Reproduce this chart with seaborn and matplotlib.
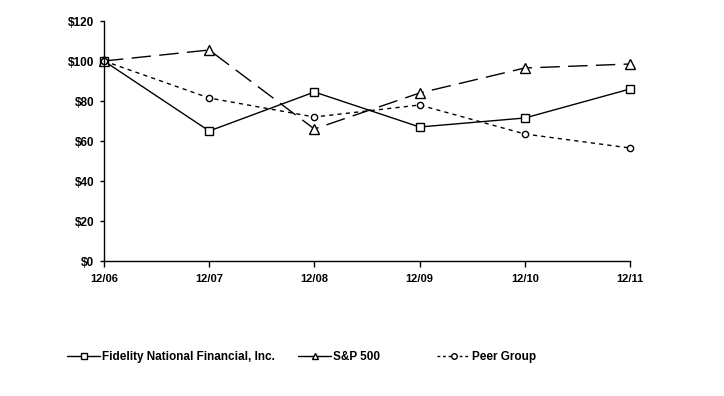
import matplotlib
matplotlib.use("Agg")
import matplotlib.pyplot as plt
import seaborn as sns
import pandas as pd
from matplotlib.lines import Line2D

periods = ["12/06", "12/07", "12/08", "12/09", "12/10", "12/11"]
fidelity = [100, 65, 84.5, 67, 71.5, 86]
sp500 = [100, 105.5, 66, 84, 96.5, 98.5]
peer = [100, 81.5, 72, 78, 63.5, 56.5]
yticks = [0, 20, 40, 60, 80, 100, 120]

sns.set_style("white")
plt.rcParams["font.family"] = ["Liberation Sans", "DejaVu Sans"]
plt.rcParams["text.color"] = "black"
plt.rcParams["xtick.color"] = "black"
plt.rcParams["ytick.color"] = "black"

df = pd.DataFrame({"x": range(len(periods)), "fnf": fidelity, "sp": sp500, "peer": peer})

fig = plt.figure(figsize=(7.24, 3.96), dpi=100)
ax = fig.add_axes([104/724, 1-261/396, (630-104)/724, 240/396])

sns.lineplot(data=df, x="x", y="fnf", ax=ax, color="black", lw=1, marker="s",
             markersize=5.5, markerfacecolor="white", markeredgecolor="black", markeredgewidth=1)
sns.lineplot(data=df, x="x", y="sp", ax=ax, color="black", lw=1, marker="^",
             markersize=6.5, markerfacecolor="white", markeredgecolor="black", markeredgewidth=1)
sns.lineplot(data=df, x="x", y="peer", ax=ax, color="black", lw=1, marker="o",
             markersize=4.5, markerfacecolor="white", markeredgecolor="black", markeredgewidth=1)
ax.lines[1].set_dashes((14, 6))
ax.lines[2].set_dashes((3, 3))

ax.set_xlim(0, 5)
ax.set_ylim(0, 120)
ax.set_xticks(range(len(periods)))
ax.set_xticklabels(periods, fontsize=8, fontweight="bold")
ax.set_yticks(yticks)
ax.set_yticklabels(["$" + str(v) for v in yticks], fontsize=8.5, fontweight="bold")
ax.set_xlabel("")
ax.set_ylabel("")
ax.tick_params(axis="x", direction="out", length=4, width=1, bottom=True, pad=5)
ax.tick_params(axis="y", direction="out", length=3, width=1, left=True, pad=4)
sns.despine(ax=ax)
for s in ["left", "bottom"]:
    ax.spines[s].set_color("black")
    ax.spines[s].set_linewidth(1)
for ln in ax.lines:
    ln.set_clip_on(False)

handles = [
    Line2D([], [], color="black", lw=1, marker="s", markersize=5, markerfacecolor="white"),
    Line2D([], [], color="black", lw=1, marker="^", markersize=5, markerfacecolor="white"),
    Line2D([], [], color="black", lw=1, ls=(0, (2, 2)), marker="o", markersize=4, markerfacecolor="white"),
]
labels = ["Fidelity National Financial, Inc.", "S&P 500", "Peer Group"]
starts = [67, 298, 437]
for h, lab, x0 in zip(handles, labels, starts):
    fig.legend([h], [lab], loc="center left", bbox_to_anchor=(x0/724, 1-357/396),
               frameon=False, handlelength=2.8, handletextpad=0.2, borderpad=0, borderaxespad=0,
               prop={"size": 8.5, "weight": "bold"})

fig.savefig("out.png", dpi=100)
